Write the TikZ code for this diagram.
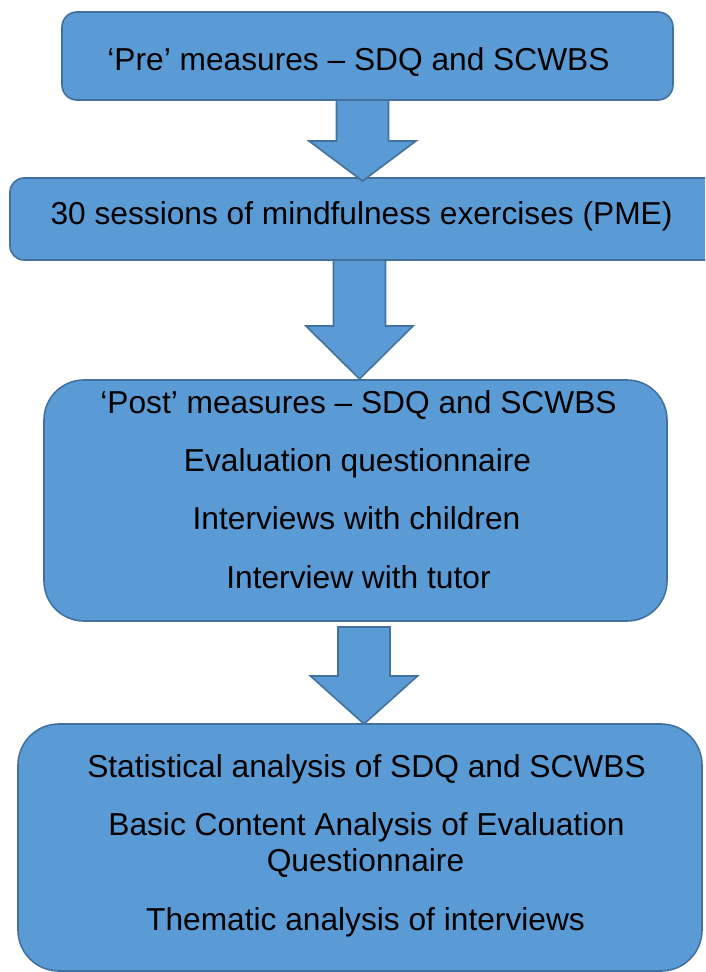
\documentclass[tikz,border=0pt]{standalone}
\usepackage{fontspec}
\setmainfont{Liberation Sans}
\usetikzlibrary{calc}

\definecolor{boxfill}{HTML}{5B9BD5}
\definecolor{boxline}{HTML}{41719C}

\tikzset{
  box/.style={draw=boxline, fill=boxfill, line width=1.6pt, inner sep=0pt},
  arrowbox/.style={draw=boxline, fill=boxfill, line width=1.6pt, line join=miter},
  lbl/.style={anchor=base, inner sep=0pt, text=black,
              font=\fontsize{31.7}{36}\selectfont}
}

% block arrow: #1 tip, #2 top centre of the shaft, #3 head length
\newcommand{\flowarrow}[3]{%
  \draw[arrowbox] (#1) -- ($(#1)+(53.5,-#3)$) -- ($(#1)+(26,-#3)$)
    -- ($(#2)+(26,0)$) -- ($(#2)+(-26,0)$)
    -- ($(#1)+(-26,-#3)$) -- ($(#1)+(-53.5,-#3)$) -- cycle;}

\begin{document}
\begin{tikzpicture}[x=1pt, y=-1pt]
  \useasboundingbox (0,0) rectangle (705,972);
  \clip (0,0) rectangle (705,972);

  % boxes
  \node[box, rounded corners=15pt, minimum width=611pt, minimum height=88pt]
    (b1) at (367.5,56) {};
  \node[box, rounded corners=14pt, minimum width=730pt, minimum height=82pt]
    (b2) at (375,219) {};
  \node[box, rounded corners=40pt, minimum width=623pt, minimum height=241pt]
    (b3) at (355.5,500.5) {};
  \node[box, rounded corners=41pt, minimum width=684pt, minimum height=247pt]
    (b4) at (360,847.5) {};

  % arrows between the stages
  \coordinate (t1) at (362.5,181);
  \coordinate (s1) at (362.5,100);
  \coordinate (t2) at (359.5,379);
  \coordinate (s2) at (359.5,260);
  \coordinate (t3) at (364,724);
  \coordinate (s3) at (364,627);
  \flowarrow{t1}{s1}{40}
  \flowarrow{t2}{s2}{53}
  \flowarrow{t3}{s3}{48}

  % texts
  \node[lbl] (p1) at (358.5,70) {‘Pre’ measures – SDQ and SCWBS};
  \node[lbl] (p2) at (361.5,224) {30 sessions of mindfulness exercises (PME)};

  \node[lbl] (q1) at (358.5,413) {‘Post’ measures – SDQ and SCWBS};
  \node[lbl] (q2) at (357.5,471) {Evaluation questionnaire};
  \node[lbl] (q3) at (356.5,529) {Interviews with children};
  \node[lbl] (q4) at (358.5,588) {Interview with tutor};

  \node[lbl] (r1) at (366.5,777) {Statistical analysis of SDQ and SCWBS};
  \node[lbl] (r2) at (366.5,835) {Basic Content Analysis of Evaluation};
  \node[lbl] (r3) at (365.5,871) {Questionnaire};
  \node[lbl] (r4) at (365.5,930) {Thematic analysis of interviews};
\end{tikzpicture}
\end{document}
